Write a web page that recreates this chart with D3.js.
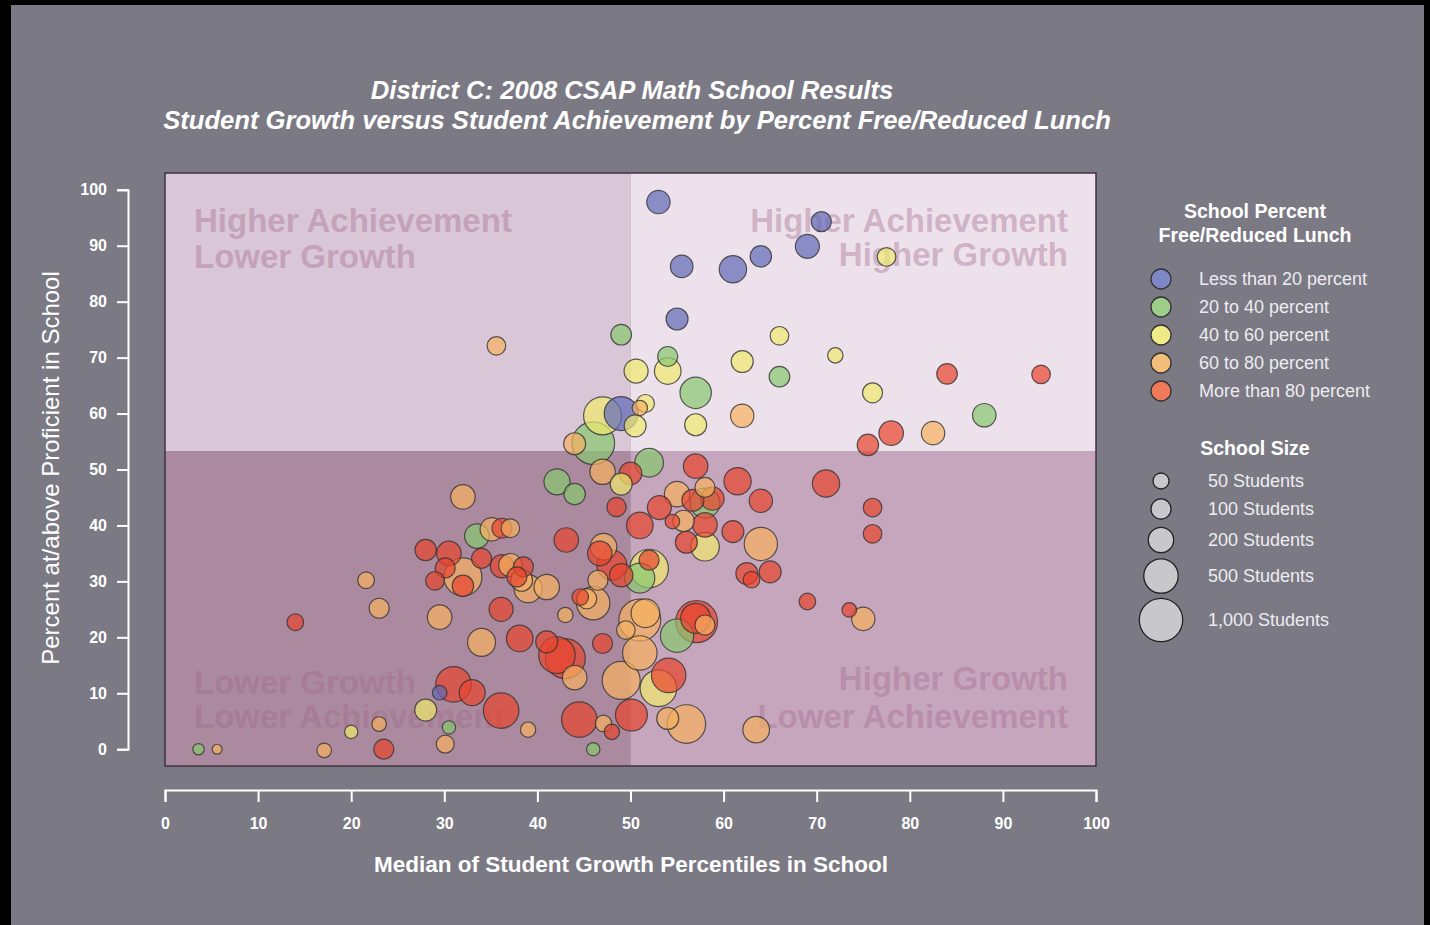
<!DOCTYPE html>
<html>
<head>
<meta charset="utf-8">
<script src="https://d3js.org/d3.v7.min.js"></script>
<style>
body { margin: 0; background: #000; }
svg { display: block; font-family: "Liberation Sans", Arial, sans-serif; }
</style>
</head>
<body>
<svg width="1430" height="925"></svg>
<script>
// school results
var growth = [53.0,70.5,69.0,64.0,55.5,61.0,77.5,55.0,66.0,54.0,72.0,50.6,54.0,62.0,66.0,84.0,94.1,57.0,76.0,88.0,
  62.0,57.0,82.5,78.0,75.5,51.6,49.0,47.0,50.5,46.0,44.0,51.0,35.6,49.0,
  52.0,57.0,61.5,47.0,50.0,49.0,42.1,44.0,48.5,55.0,53.1,58.0,58.0,55.7,54.5,51.0,58.0,58.0,56.0,61.0,64.0,
  62.5,63.0,65.0,64.0,71.0,76.0,76.0,58.8,56.7,52.0,52.0,51.0,57.1,57.0,58.0,55.0,51.6,51.0,49.5,51.0,49.0,
  54.1,53.0,50.1,54.0,56.0,63.5,69.0,73.5,75.0,47.0,47.1,48.0,46.0,
  29.5,36.1,43.0,34.0,38.1,41.0,42.1,43.0,44.0,31.0,33.0,29.5,28.0,36.1,30.5,39.0,30.1,44.5,32.0,33.5,
  35.1,36.2,37.1,43.1,28.0,30.5,34.0,36.2,37.1,38.5,37.8,39.0,41.0,38.3,30.1,32.0,32.0,29.0,21.6,23.0,
  14.0,46.0,45.3,44.6,46.5,46.7,47.1,48.0,49.0,23.0,20.0,17.1,23.5,3.6,5.6];
var proficient = [97.8,94.3,89.9,88.1,86.3,85.8,88.0,76.9,73.9,70.2,70.4,67.6,67.6,69.3,66.6,67.1,67.0,63.7,63.7,59.7,
  59.6,58.0,56.5,56.5,54.4,61.8,60.0,59.6,57.8,54.7,54.6,61.0,72.1,74.1,
  51.2,50.6,47.9,49.6,49.3,47.4,47.8,45.6,43.3,45.6,43.2,46.8,44.0,40.8,40.7,40.0,40.1,36.2,37.0,38.9,36.7,
  31.4,30.3,31.7,44.4,47.5,43.2,38.5,44.8,44.5,32.3,33.8,30.6,22.8,23.4,22.2,20.3,24.3,23.1,21.3,17.2,12.3,
  13.2,10.9,6.1,5.5,4.5,3.5,26.4,24.9,23.3,18.9,4.6,3.1,0.0,
  23.6,25.0,24.0,19.1,19.8,19.2,16.8,16.2,12.8,11.6,10.1,10.1,7.0,6.9,3.9,3.5,0.9,5.3,45.1,38.1,
  39.3,39.5,39.5,37.4,35.6,35.0,34.1,32.7,32.9,32.6,30.8,28.7,29.0,30.2,32.4,30.8,29.2,30.1,30.2,25.2,
  22.7,26.1,26.9,27.2,30.2,35.0,36.2,32.9,31.1,4.5,3.1,-0.2,0.0,0.0,0.0];
var students = [156,98,169,120,141,250,79,130,79,98,44,169,230,130,107,107,79,377,98,158,
  156,130,156,180,120,71,480,670,130,950,130,44,79,107,
  287,180,250,200,141,130,215,120,88,200,169,98,330,120,38,230,180,287,130,130,450,
  130,56,130,156,250,79,79,156,130,700,98,330,900,330,98,450,287,900,79,500,670,
  500,600,400,130,700,230,56,38,156,98,56,44,29,
  180,169,44,268,230,130,600,780,180,550,215,38,130,550,29,44,71,550,180,180,
  156,98,79,180,120,180,98,156,156,98,98,268,200,130,98,670,120,79,56,98,
  56,450,98,56,98,180,230,330,156,38,29,38,98,18,12];
// 0 <20%, 1 20-40%, 2 40-60%, 3 60-80%, 4 >80% free/reduced lunch
var frlGroup = [0,0,0,0,0,0,2,0,2,1,2,2,2,2,1,4,4,1,2,1,
  3,2,3,4,4,2,0,2,2,1,3,3,3,1,
  1,4,4,3,4,2,1,1,4,3,4,3,1,3,4,4,4,2,4,4,3,
  4,4,4,4,4,4,4,4,4,2,4,1,4,4,3,1,3,3,3,3,3,
  4,2,4,3,3,3,4,4,3,4,3,4,1,
  3,4,3,3,4,4,4,4,3,4,4,0,2,4,1,3,3,4,3,1,
  3,4,3,4,4,4,4,4,3,4,4,3,3,3,4,3,4,4,3,3,
  4,3,3,4,3,4,3,4,4,3,2,3,4,1,3];

var frlLabels = ["Less than 20 percent", "20 to 40 percent", "40 to 60 percent", "60 to 80 percent", "More than 80 percent"];
var sizeLegend = [50, 100, 200, 500, 1000];
var sizeLabels = ["50 Students", "100 Students", "200 Students", "500 Students", "1,000 Students"];
var xTicks = [0,10,20,30,40,50,60,70,80,90,100];
var yTicks = [0,10,20,30,40,50,60,70,80,90,100];
var growthSplit = 50, profSplit = 53.3;

var pointFill = ["#6068b7", "#88c76f", "#f0ea6d", "#f6b060", "#e8452e"];
var legendFill = ["#7f86c6", "#9dcf8a", "#eeea88", "#f2be7a", "#ee7a5a"];

var svg = d3.select("svg");
svg.append("rect").attr("x", 11).attr("y", 5).attr("width", 1413).attr("height", 920).attr("fill", "#7b7a84");

var x = d3.scaleLinear().domain([0, 100]).range([165, 1096]);
var y = d3.scaleLinear().domain([-3, 103]).range([766, 173]);
var r = d3.scalePow().exponent(1/3).domain([0, 1000]).range([0, 21.7]);

// quadrants
var quads = [
  {x0: 0, x1: growthSplit, y0: profSplit, y1: 103, fill: "#d9c6d7"},
  {x0: growthSplit, x1: 100, y0: profSplit, y1: 103, fill: "#ede2eb"},
  {x0: 0, x1: growthSplit, y0: -3, y1: profSplit, fill: "#ab8a9f"},
  {x0: growthSplit, x1: 100, y0: -3, y1: profSplit, fill: "#c6a6bd"}
];
svg.append("g").selectAll("rect").data(quads).enter().append("rect")
  .attr("x", d => x(d.x0)).attr("y", d => y(d.y1))
  .attr("width", d => x(d.x1) - x(d.x0)).attr("height", d => y(d.y0) - y(d.y1))
  .attr("fill", d => d.fill);
svg.append("rect").attr("x", x(0)).attr("y", y(103)).attr("width", x(100) - x(0)).attr("height", y(-3) - y(103))
  .attr("fill", "none").attr("stroke", "#3e3440").attr("stroke-width", 1.5);

// quadrant captions
var qtext = [
  {lines: ["Higher Achievement", "Lower Growth"], x: 194, y: [232, 268], anchor: "start"},
  {lines: ["Higher Achievement", "Higher Growth"], x: 1068, y: [232, 266], anchor: "end"},
  {lines: ["Lower Growth", "Lower Achievement"], x: 194, y: [694, 728], anchor: "start"},
  {lines: ["Higher Growth", "Lower Achievement"], x: 1068, y: [690, 728], anchor: "end"}
];
qtext.forEach(function(q) {
  q.lines.forEach(function(t, i) {
    svg.append("text").attr("x", q.x).attr("y", q.y[i]).attr("text-anchor", q.anchor)
      .attr("font-size", 33).attr("font-weight", "bold")
      .attr("fill", "#a2678c").attr("fill-opacity", 0.4).text(t);
  });
});

// schools
var schools = growth.map(function(g, i) {
  return {g: g, p: proficient[i], n: students[i], c: frlGroup[i]};
}).sort((a, b) => b.n - a.n);

svg.append("g").selectAll("circle").data(schools).enter().append("circle")
  .attr("cx", d => x(d.g)).attr("cy", d => y(d.p)).attr("r", d => r(d.n))
  .attr("fill", d => pointFill[d.c]).attr("fill-opacity", 0.7)
  .attr("stroke", "#333").attr("stroke-opacity", 0.8).attr("stroke-width", 1.2);

// axes
var xAxis = svg.append("g").attr("transform", "translate(0,790)")
  .call(d3.axisBottom(x).tickValues(xTicks).tickSize(12).tickPadding(16));
var yAxis = svg.append("g").attr("transform", "translate(128,0)")
  .call(d3.axisLeft(y.copy().domain([0, 100]).range([749.2, 189.8])).tickValues(yTicks).tickSize(11).tickPadding(10));
[xAxis, yAxis].forEach(function(a) {
  a.selectAll("path, line").attr("stroke", "#fff").attr("stroke-width", 2);
  a.selectAll("text").attr("fill", "#fff").attr("font-size", 16).attr("font-weight", "bold")
    .attr("font-family", "'Liberation Sans', Arial, sans-serif");
});

svg.append("text").attr("x", 631).attr("y", 872).attr("text-anchor", "middle")
  .attr("fill", "#fff").attr("font-size", 22.5).attr("font-weight", "bold")
  .text("Median of Student Growth Percentiles in School");
svg.append("text").attr("transform", "translate(59,468) rotate(-90)").attr("text-anchor", "middle")
  .attr("fill", "#fff").attr("font-size", 24)
  .text("Percent at/above Proficient in School");

// title
var title = ["District C: 2008 CSAP Math School Results",
  "Student Growth versus Student Achievement by Percent Free/Reduced Lunch"];
var titleX = [632, 637];
title.forEach(function(t, i) {
  svg.append("text").attr("x", titleX[i]).attr("y", 99 + i * 30).attr("text-anchor", "middle")
    .attr("fill", "#fff").attr("font-size", 25.6).attr("font-weight", "bold").attr("font-style", "italic")
    .text(t);
});

// legend: lunch groups
var lg = svg.append("g");
["School Percent", "Free/Reduced Lunch"].forEach(function(t, i) {
  lg.append("text").attr("x", 1255).attr("y", 218 + i * 24).attr("text-anchor", "middle")
    .attr("fill", "#fff").attr("font-size", 19.5).attr("font-weight", "bold").text(t);
});
frlLabels.forEach(function(t, i) {
  var cy = 279 + i * 28;
  lg.append("circle").attr("cx", 1161).attr("cy", cy).attr("r", 10)
    .attr("fill", legendFill[i]).attr("stroke", "#333").attr("stroke-width", 1.3);
  lg.append("text").attr("x", 1199).attr("y", cy + 6).attr("fill", "#ececf0")
    .attr("font-size", 18).text(t);
});

// legend: school size
lg.append("text").attr("x", 1255).attr("y", 455).attr("text-anchor", "middle")
  .attr("fill", "#fff").attr("font-size", 19.5).attr("font-weight", "bold").text("School Size");
var sizeY = [481, 509, 540, 576, 620];
sizeLegend.forEach(function(n, i) {
  lg.append("circle").attr("cx", 1161).attr("cy", sizeY[i]).attr("r", r(n))
    .attr("fill", "#c8c8cc").attr("stroke", "#222").attr("stroke-width", 1.3);
  lg.append("text").attr("x", 1208).attr("y", sizeY[i] + 6).attr("fill", "#ececf0")
    .attr("font-size", 18).text(sizeLabels[i]);
});
</script>
</body>
</html>
